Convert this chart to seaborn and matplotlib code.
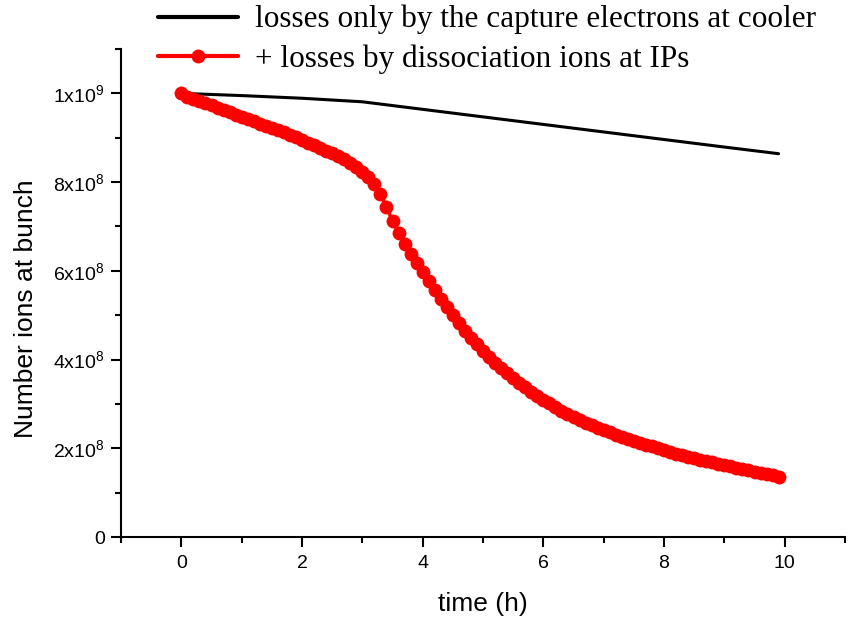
import numpy as np
import pandas as pd
import matplotlib
matplotlib.use("Agg")
import matplotlib.pyplot as plt
from matplotlib.ticker import FixedLocator
import seaborn as sns

# ---- data ----
t_black = [0, 1, 2, 3, 4, 5, 6, 7, 8, 9, 9.9]
n_black = [1.000e9, 0.995e9, 0.989e9, 0.981e9, 0.964e9, 0.947e9, 0.930e9,
           0.913e9, 0.896e9, 0.879e9, 0.864e9]

t_red = [round(0.1 * i, 1) for i in range(100)]
n_red_e9 = [
    1.000, 0.992, 0.988, 0.983, 0.978, 0.973, 0.968, 0.962, 0.957, 0.952,
    0.947, 0.942, 0.937, 0.932, 0.927, 0.922, 0.917, 0.912, 0.906, 0.901,
    0.895, 0.889, 0.883, 0.877, 0.871, 0.865, 0.858, 0.851, 0.843, 0.834,
    0.823, 0.811, 0.796, 0.773, 0.744, 0.712, 0.685, 0.660, 0.638, 0.617,
    0.597, 0.577, 0.557, 0.537, 0.518, 0.500, 0.482, 0.465, 0.449, 0.434,
    0.420, 0.406, 0.393, 0.381, 0.369, 0.358, 0.347, 0.337, 0.327, 0.318,
    0.309, 0.301, 0.293, 0.285, 0.278, 0.271, 0.264, 0.258, 0.252, 0.246,
    0.241, 0.236, 0.231, 0.226, 0.221, 0.217, 0.212, 0.208, 0.204, 0.200,
    0.196, 0.192, 0.188, 0.185, 0.181, 0.178, 0.174, 0.171, 0.168, 0.165,
    0.162, 0.159, 0.156, 0.153, 0.150, 0.147, 0.144, 0.141, 0.139, 0.136,
]
n_red = [v * 1e9 for v in n_red_e9]

label_black = "losses only by the capture electrons at cooler"
label_red = "+ losses by dissociation ions at IPs"

xtick_major = [0, 2, 4, 6, 8, 10]
xtick_minor = [-1, 1, 3, 5, 7, 9, 11]
ytick_major = [0, 2e8, 4e8, 6e8, 8e8, 1e9]
ytick_labels = ["0", r"$2x10^{8}$", r"$4x10^{8}$", r"$6x10^{8}$",
                r"$8x10^{8}$", r"$1x10^{9}$"]
ytick_minor = [1e8, 3e8, 5e8, 7e8, 9e8, 1.1e9]

# ---- style ----
sns.set_style("ticks")
plt.rcParams["font.family"] = ["Liberation Sans", "DejaVu Sans"]
plt.rcParams["mathtext.default"] = "regular"
plt.rcParams["text.color"] = "black"
plt.rcParams["axes.labelcolor"] = "black"

W, H = 850, 618
fig = plt.figure(figsize=(W / 100, H / 100), dpi=100)
ax = fig.add_axes([121 / W, 81 / H, 724 / W, 488 / H])

df_b = pd.DataFrame({"t": t_black, "n": n_black})
df_r = pd.DataFrame({"t": t_red, "n": n_red})

sns.lineplot(data=df_b, x="t", y="n", ax=ax, color="black", linewidth=2.2,
             label=label_black, estimator=None, sort=False)
sns.lineplot(data=df_r, x="t", y="n", ax=ax, color="#ff0000", linewidth=2.5,
             marker="o", markersize=10, markeredgewidth=0,
             label=label_red, estimator=None, sort=False)

ax.set_xlim(-1, 11)
ax.set_ylim(0, 1.1e9)

ax.xaxis.set_major_locator(FixedLocator(xtick_major))
ax.xaxis.set_minor_locator(FixedLocator(xtick_minor))
ax.set_xticklabels([str(v) for v in xtick_major])
ax.yaxis.set_major_locator(FixedLocator(ytick_major))
ax.yaxis.set_minor_locator(FixedLocator(ytick_minor))
ax.set_yticklabels(ytick_labels)

ax.tick_params(which="major", direction="out", length=7.2, width=1.5,
               labelsize=14, color="black", labelcolor="black")
ax.tick_params(axis="x", which="major", pad=5.5)
ax.tick_params(axis="y", which="major", pad=4.5)
ax.tick_params(which="minor", direction="out", length=4.3, width=1.5,
               color="black")

for side in ["top", "right"]:
    ax.spines[side].set_visible(False)
for side in ["left", "bottom"]:
    ax.spines[side].set_linewidth(1.5)
    ax.spines[side].set_color("black")

ax.set_xlabel("time (h)", fontsize=19, labelpad=15, color="black")
ax.set_ylabel("Number ions at bunch", fontsize=19, color="black")
ax.yaxis.set_label_coords(-0.1146, 0.467)

leg = ax.legend(loc="upper left", bbox_to_anchor=(158 / W, 0.992),
                bbox_transform=fig.transFigure, frameon=False,
                prop={"family": "Liberation Serif", "size": 22.5},
                handlelength=2.55, handletextpad=0.55, labelspacing=0.32,
                borderpad=0, borderaxespad=0, labelcolor="black")
for line in leg.get_lines():
    line.set_linewidth(3)

fig.savefig("out.png", dpi=100)
